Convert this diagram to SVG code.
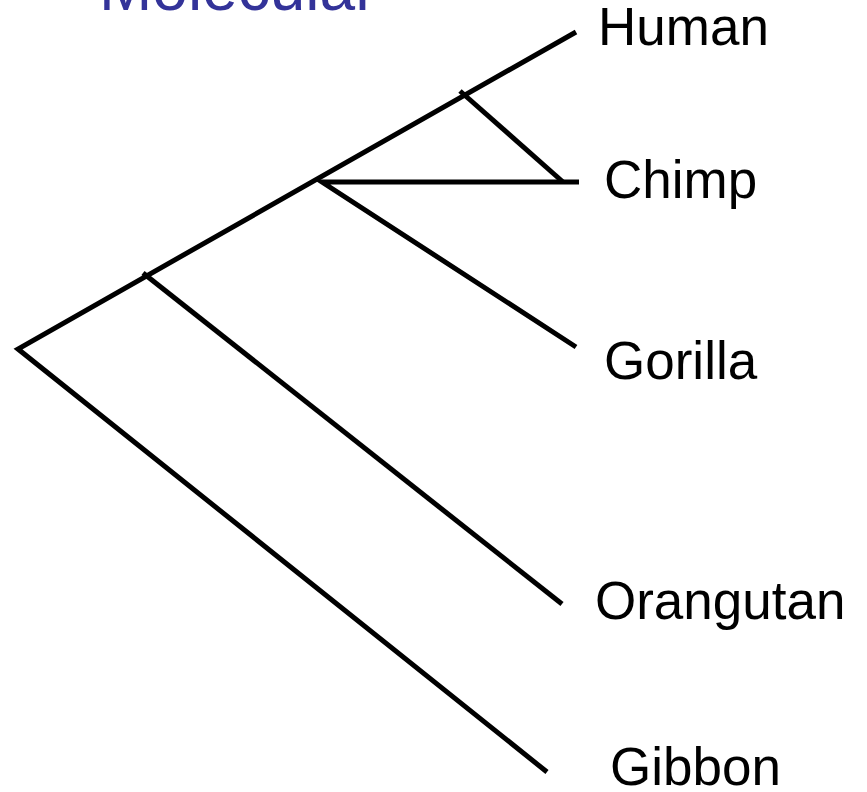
<svg xmlns="http://www.w3.org/2000/svg" width="867" height="792" viewBox="0 0 867 792">
<style>
.br{stroke:#000;stroke-width:5;fill:none;stroke-linecap:butt;stroke-linejoin:miter}
.lbl{font-family:"Liberation Sans",Arial,sans-serif;font-size:53px;fill:#000}
.title{font-family:"Liberation Sans",Arial,sans-serif;font-size:64px;fill:#333399}
</style>
<rect width="867" height="792" fill="#fff"/>
<text class="title" x="99" y="10">Molecular</text>
<g id="connectors">
<path class="br" d="M576,32 L18,349 L547,772"/>
<path class="br" d="M143,273 L562,604"/>
<path class="br" d="M579,182 L322,182 L576,347"/>
<path class="br" d="M460,91 L563,182"/>
</g>
<g id="human"><text class="lbl" x="598" y="45">Human</text></g>
<g id="chimp"><text class="lbl" x="604" y="198">Chimp</text></g>
<g id="gorilla"><text class="lbl" x="604" y="379">Gorilla</text></g>
<g id="orangutan"><text class="lbl" x="595" y="619">Orangutan</text></g>
<g id="gibbon"><text class="lbl" x="610" y="785">Gibbon</text></g>
</svg>
